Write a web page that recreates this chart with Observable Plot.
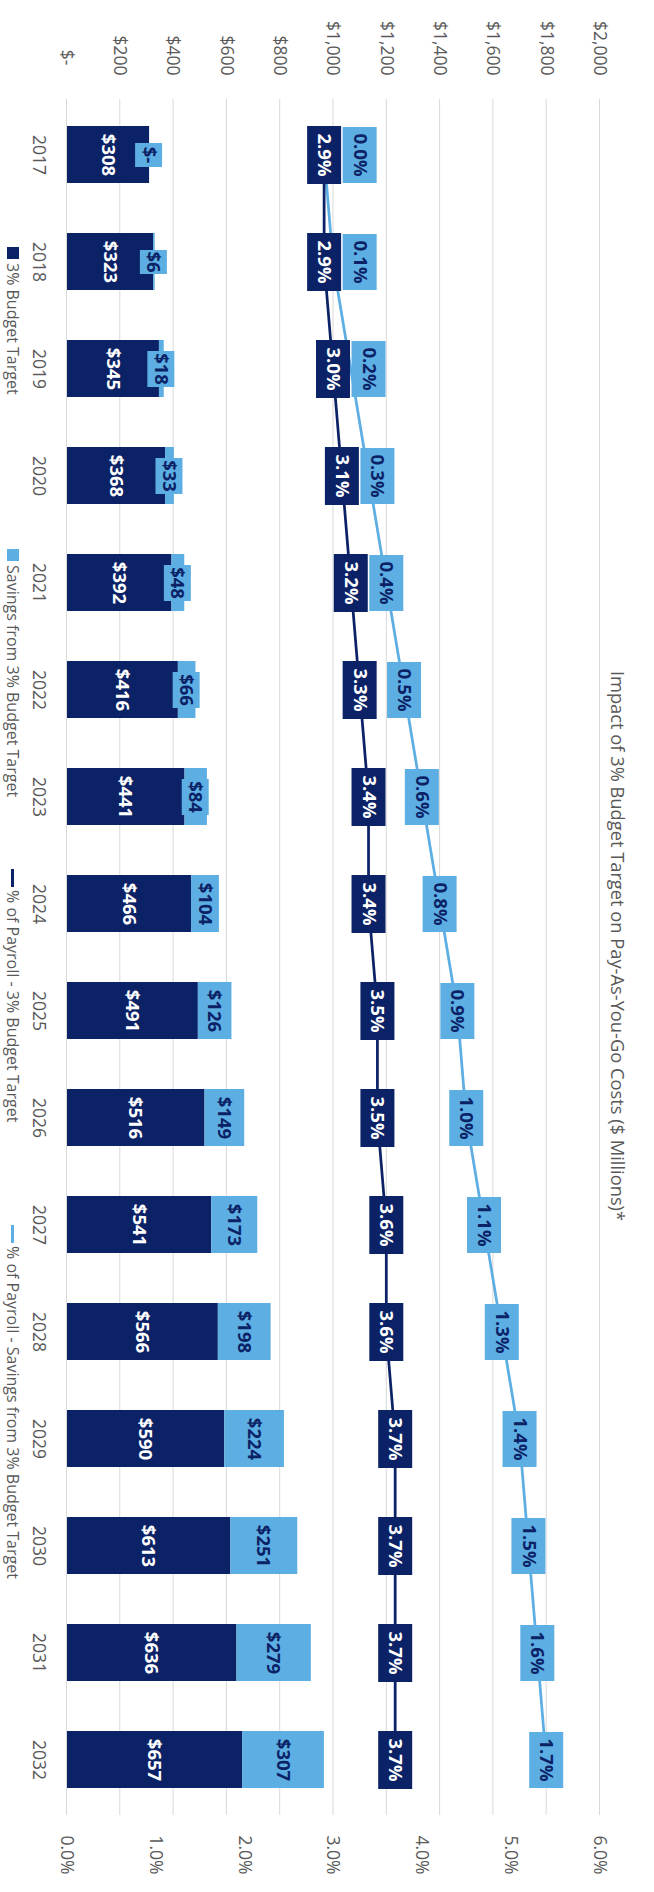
<!DOCTYPE html>
<html>
<head>
<meta charset="utf-8">
<script src="https://cdn.jsdelivr.net/npm/d3@7"></script>
<script src="https://cdn.jsdelivr.net/npm/@observablehq/plot@0.6"></script>
<style>
  html, body { margin: 0; padding: 0; background: #fff; }
  #page { position: relative; width: 654px; height: 1892px; overflow: hidden; background: #fff; }
  /* The chart is laid out landscape, then turned a quarter turn clockwise onto the tall page */
  #chart {
    position: absolute; left: 0; top: 0; width: 1892px; height: 654px;
    transform-origin: 0 0; transform: translate(654px, 0) rotate(90deg);
    font-family: "Open Sans", sans-serif; color: #595959;
  }
  #plot { position: absolute; left: 0; top: 30px; }
  #title { position: absolute; left: 0; top: 24px; width: 1892px; text-align: center; font-size: 18.3px; line-height: 24px; }
  #legend { position: absolute; left: 0; top: 629px; width: 1892px; height: 24px; font-size: 16px; line-height: 24px; }
  .item { position: absolute; top: 0; display: flex; align-items: center; white-space: nowrap; }
  .swatch { width: 12px; height: 12px; margin-right: 4px; }
  .stroke { width: 18px; height: 3px; margin-right: 3px; }
</style>
</head>
<body>
<div id="page">
  <div id="chart">
    <div id="plot"></div>
    <div id="title">Impact of 3% Budget Target on Pay-As-You-Go Costs ($ Millions)*</div>
    <div id="legend"></div>
  </div>
</div>
<script>
// Fiscal years
const years = ["2017", "2018", "2019", "2020", "2021", "2022", "2023", "2024",
               "2025", "2026", "2027", "2028", "2029", "2030", "2031", "2032"];
// Pay-as-you-go costs, $ millions
const budgetTarget = [308, 323, 345, 368, 392, 416, 441, 466, 491, 516, 541, 566, 590, 613, 636, 657];
const savings      = [0, 6, 18, 33, 48, 66, 84, 104, 126, 149, 173, 198, 224, 251, 279, 307];
// Same costs as a percent of payroll
const payrollTarget  = [2.9, 2.9, 3.0, 3.1, 3.2, 3.3, 3.4, 3.4, 3.5, 3.5, 3.6, 3.6, 3.7, 3.7, 3.7, 3.7];
const payrollSavings = [0.0, 0.1, 0.2, 0.3, 0.4, 0.5, 0.6, 0.8, 0.9, 1.0, 1.1, 1.3, 1.4, 1.5, 1.6, 1.7];
// Axis ticks
const dollarTicks  = [0, 200, 400, 600, 800, 1000, 1200, 1400, 1600, 1800, 2000];
const percentTicks = [0, 1, 2, 3, 4, 5, 6];

const NAVY = "#0b2266";
const LIGHT = "#5caee3";
const GRID = "#d9d9d9";

const rows = years.map((year, i) => ({
  year,
  target: budgetTarget[i],
  savings: savings[i],
  pctTarget: payrollTarget[i],
  pctSavings: payrollSavings[i]
}));

// Secondary axis: 0–6% of payroll shares the height of $0–$2,000
const k = 2000 / 6;
const comma = d3.format(",");
const money = v => v === 0 ? "$-" : "$" + comma(v);
const moneyTick = v => v === 0 ? "$-\u2007" : "$" + comma(v);
const pct = v => v.toFixed(1) + "%";

// Rectangular label backgrounds drawn as dot symbols
const box = (w, h) => ({
  draw(ctx) {
    ctx.moveTo(-w / 2, -h / 2);
    ctx.lineTo(w / 2, -h / 2);
    ctx.lineTo(w / 2, h / 2);
    ctx.lineTo(-w / 2, h / 2);
    ctx.closePath();
  }
});
const boxWidth = {2: 24, 3: 36, 4: 47};
const savingsMid = d => d.target + d.savings / 2;
const targetPct = d => d.pctTarget * k;
const totalPct = d => (d.pctTarget + d.pctSavings) * k;
// savings labels sit on the stacked line, nudged clear of the target labels
const savingsLabelPct = d => Math.max(d.pctTarget + d.pctSavings, d.pctTarget + 0.4) * k;

const savingsBoxes = [2, 3, 4].map(n =>
  Plot.dot(rows.filter(d => money(d.savings).length === n), {
    x: "year", y: savingsMid, symbol: box(boxWidth[n], 27), fill: LIGHT, stroke: "none"
  })
);

const labelFont = {fontSize: 18.5, fontWeight: "bold"};

const chart = Plot.plot({
  width: 1892,
  height: 598,
  marginTop: 24,
  marginBottom: 41,
  marginLeft: 99,
  marginRight: 77,
  style: {fontFamily: "'Open Sans', sans-serif", fontSize: "17.5px", color: "#595959", background: "transparent", overflow: "visible"},
  x: {type: "band", domain: years, paddingInner: 0.47, paddingOuter: 0.235},
  y: {domain: [0, 2000]},
  marks: [
    Plot.gridY(dollarTicks, {stroke: GRID, strokeOpacity: 1, strokeWidth: 1}),
    Plot.axisX({tickSize: 0, tickPadding: 21, label: null}),
    Plot.axisY({anchor: "left", ticks: dollarTicks, tickFormat: moneyTick, tickSize: 0, tickPadding: 24, label: null}),
    Plot.axisY({anchor: "right", ticks: percentTicks.map(p => p * k), tickFormat: v => pct(v / k), tickSize: 0, tickPadding: 20, label: null}),

    // stacked columns
    Plot.barY(rows, {x: "year", y1: 0, y2: "target", fill: NAVY}),
    Plot.barY(rows, {x: "year", y1: "target", y2: d => d.target + d.savings, fill: LIGHT}),
    Plot.text(rows, {x: "year", y: d => d.target / 2, text: d => money(d.target), fill: "white", ...labelFont}),
    ...savingsBoxes,
    Plot.text(rows, {x: "year", y: savingsMid, text: d => money(d.savings), fill: NAVY, ...labelFont}),

    // percent of payroll lines (savings stacked on the target)
    Plot.line(rows, {x: "year", y: totalPct, stroke: LIGHT, strokeWidth: 2.75}),
    Plot.line(rows, {x: "year", y: targetPct, stroke: NAVY, strokeWidth: 2.75}),
    Plot.dot(rows, {x: "year", y: targetPct, symbol: box(58, 34), fill: NAVY, stroke: "none"}),
    Plot.text(rows, {x: "year", y: targetPct, text: d => pct(d.pctTarget), fill: "white", ...labelFont}),
    Plot.dot(rows, {x: "year", y: savingsLabelPct, symbol: box(56, 34), fill: LIGHT, stroke: "none"}),
    Plot.text(rows, {x: "year", y: savingsLabelPct, text: d => pct(d.pctSavings), fill: NAVY, ...labelFont})
  ]
});
document.getElementById("plot").appendChild(chart);

// Legend
const legendItems = [
  {label: "3% Budget Target", color: NAVY, kind: "swatch", left: 247},
  {label: "Savings from 3% Budget Target", color: LIGHT, kind: "swatch", left: 549},
  {label: "% of Payroll - 3% Budget Target", color: NAVY, kind: "stroke", left: 869},
  {label: "% of Payroll - Savings from 3% Budget Target", color: LIGHT, kind: "stroke", left: 1225}
];
const legend = d3.select("#legend");
legendItems.forEach(item => {
  const el = legend.append("div").attr("class", "item").style("left", item.left + "px");
  el.append("span").attr("class", item.kind).style("background", item.color);
  el.append("span").text(item.label);
});
</script>
</body>
</html>
